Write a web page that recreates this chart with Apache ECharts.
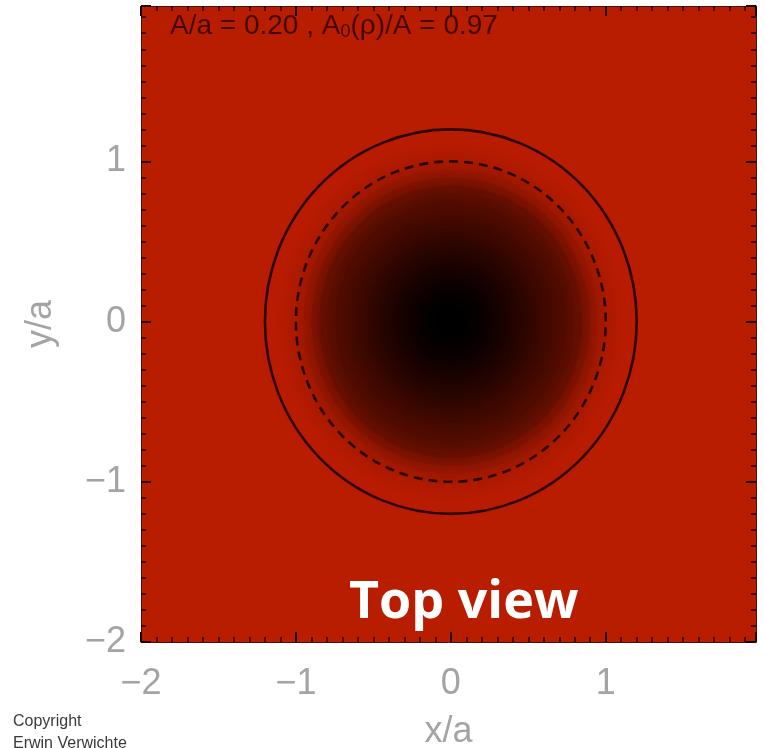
<!DOCTYPE html>
<html>
<head>
<meta charset="utf-8">
<script src="https://cdn.jsdelivr.net/npm/echarts@6/dist/echarts.min.js"></script>
<style>
  html, body { margin: 0; padding: 0; background: #ffffff; }
  #chart { width: 767px; height: 748px; }
</style>
</head>
<body>
<div id="chart"></div>
<script>
// Axis ticks (in units of the loop radius a)
const xTicks = [-2, -1, 0, 1];
const yTicks = [-2, -1, 0, 1];

// Radial profile of the cross-section: radius r/a and normalised intensity
// (0 = dense core, 1 = surrounding medium)
const profileRadius = [0.00, 0.05, 0.10, 0.15, 0.20, 0.25, 0.30, 0.35, 0.40, 0.45,
                       0.50, 0.55, 0.60, 0.65, 0.70, 0.75, 0.80, 0.85, 0.90, 0.95,
                       1.00, 1.05, 1.10, 1.15];
const profileValue  = [0.00, 0.00, 0.01, 0.03, 0.05, 0.08, 0.11, 0.14, 0.18, 0.21,
                       0.25, 0.29, 0.33, 0.37, 0.41, 0.45, 0.50, 0.57, 0.70, 0.82,
                       0.90, 0.95, 0.98, 1.00];

// Contours: outer edge of the perturbed loop (1 + A/a) and the unperturbed radius
const contourRadius = [1.2, 1.0];

const chart = echarts.init(document.getElementById('chart'), null, { renderer: 'canvas' });

const minus = v => (v < 0 ? '\u2212' + Math.abs(v) : String(v));

// rings ordered from the outside in, so inner ones are painted on top
const rings = profileRadius
  .map((r, i) => [r, profileValue[i]])
  .sort((a, b) => b[0] - a[0]);

function ellipsePath(api, r) {
  const c = api.coord([0, 0]);
  const rx = Math.abs(api.coord([r, 0])[0] - c[0]);
  const ry = Math.abs(api.coord([0, r])[1] - c[1]);
  return 'M' + (c[0] - rx) + ' ' + c[1] +
    ' A' + rx + ' ' + ry + ' 0 1 0 ' + (c[0] + rx) + ' ' + c[1] +
    ' A' + rx + ' ' + ry + ' 0 1 0 ' + (c[0] - rx) + ' ' + c[1] + ' Z';
}

const tickLabelStyle = {
  color: '#a4a4a4',
  fontFamily: 'Liberation Sans',
  fontSize: 36
};

const axisCommon = {
  type: 'value',
  min: -2,
  max: 1.97,
  interval: 1,
  splitLine: { show: false },
  axisLine: { show: true, onZero: false, lineStyle: { color: '#4a1208', width: 1 } },
  axisTick: { show: true, inside: true, length: 10, lineStyle: { color: '#1c0000', width: 2 } },
  minorTick: { show: true, splitNumber: 10, length: 5, lineStyle: { color: '#1c0000', width: 1.5 } }
};

const option = {
  animation: false,
  backgroundColor: '#ffffff',
  grid: {
    left: 141, top: 6, right: 11, bottom: 106,
    containLabel: false,
    outerBoundsMode: 'none',
    show: true, backgroundColor: '#b91d00', borderWidth: 0
  },
  visualMap: {
    type: 'continuous',
    show: false,
    min: 0, max: 1,
    dimension: 1,
    seriesIndex: 0,
    inRange: { color: ['#000000', '#b91d00'] }
  },
  xAxis: [
    Object.assign({}, axisCommon, {
      position: 'bottom',
      name: 'x/a',
      nameLocation: 'middle',
      nameGap: 72,
      nameTextStyle: tickLabelStyle,
      axisLabel: Object.assign({ margin: 24, formatter: minus,
        customValues: xTicks }, tickLabelStyle)
    }),
    Object.assign({}, axisCommon, {
      position: 'top',
      axisLabel: { show: false }
    })
  ],
  yAxis: [
    Object.assign({}, axisCommon, {
      position: 'left',
      name: 'y/a',
      nameLocation: 'middle',
      nameGap: 82,
      nameTextStyle: tickLabelStyle,
      axisLabel: Object.assign({ margin: 15, formatter: minus,
        customValues: yTicks }, tickLabelStyle)
    }),
    Object.assign({}, axisCommon, {
      position: 'right',
      axisLabel: { show: false }
    })
  ],
  series: [
    {
      // shaded cross-section, softened so the rings blend into each other
      type: 'custom',
      xAxisIndex: 0, yAxisIndex: 0,
      data: rings,
      encode: { x: 0, y: -1 },
      renderItem: (params, api) => {
        const col = api.visual('color');
        return {
          type: 'path',
          shape: { pathData: ellipsePath(api, api.value(0)) },
          style: { fill: col, stroke: null, shadowBlur: 12, shadowColor: col }
        };
      },
      z: 2
    },
    {
      // contour lines
      type: 'custom',
      xAxisIndex: 0, yAxisIndex: 0,
      data: contourRadius.map(r => [r]),
      encode: { x: 0, y: -1 },
      renderItem: (params, api) => ({
        type: 'path',
        shape: { pathData: ellipsePath(api, api.value(0)) },
        style: {
          fill: null,
          stroke: '#2a0500',
          lineWidth: 2.6,
          lineDash: params.dataIndex === 1 ? [9, 6] : null
        }
      }),
      z: 3
    }
  ],
  graphic: [
    {
      type: 'text',
      left: 170, top: 12,
      z: 10,
      style: {
        text: 'A/a = 0.20 , A{sub|0}(\u03c1)/A = 0.97',
        fill: 'rgba(30,0,0,0.75)',
        fontFamily: 'Liberation Sans',
        fontSize: 28,
        rich: {
          sub: { fontSize: 18, fill: 'rgba(30,0,0,0.75)', fontFamily: 'Liberation Sans', verticalAlign: 'bottom', padding: [12, 0, 0, 0] }
        }
      }
    },
    {
      type: 'text',
      left: 349, top: 577,
      z: 10,
      style: {
        text: 'Top view',
        fill: '#ffffff',
        fontFamily: 'Open Sans',
        fontWeight: 'bold',
        fontSize: 52
      }
    },
    {
      type: 'text',
      left: 13, top: 711,
      z: 10,
      style: {
        text: 'Copyright\nErwin Verwichte',
        fill: '#3a3a3a',
        fontFamily: 'Liberation Sans',
        fontSize: 16,
        lineHeight: 22
      }
    }
  ]
};

chart.setOption(option);
</script>
</body>
</html>
